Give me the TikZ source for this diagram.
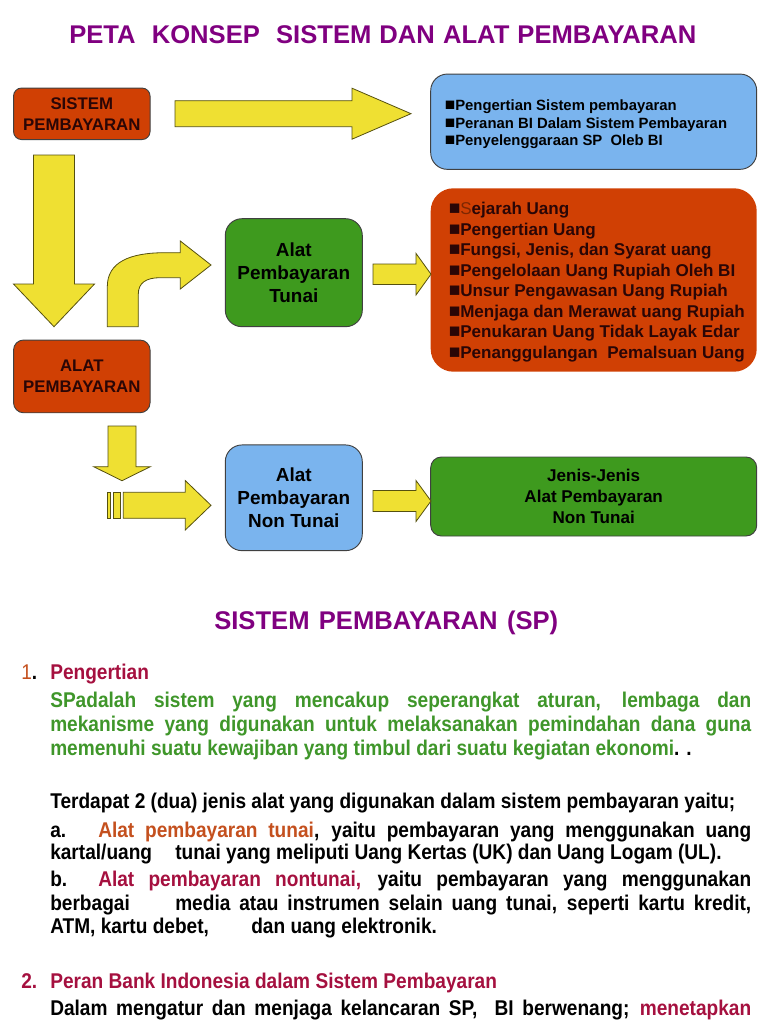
\documentclass[tikz,border=0pt]{standalone}
\usepackage{fontspec}
\setmainfont{Liberation Sans}
\newfontfamily\bodyfont[FakeStretch=0.895]{Liberation Sans}
\usetikzlibrary{positioning}
\definecolor{boxred}{HTML}{D04004}
\definecolor{boxgreen}{HTML}{3E9A1E}
\definecolor{boxblue}{HTML}{7AB4EE}
\definecolor{arrowyellow}{HTML}{EFE032}
\definecolor{arrowline}{HTML}{55500F}
\definecolor{headpurple}{HTML}{800080}
\definecolor{textcrimson}{HTML}{A5103F}
\definecolor{textorange}{HTML}{C4501E}
\definecolor{textgreen}{HTML}{3F962A}
\definecolor{textdark}{HTML}{2A0606}
\newcommand{\justline}[2]{\makebox[\dimexpr#1pt*3/4\relax][s]{#2}}
\newcommand{\listmark}[2]{\makebox[\dimexpr#1pt*3/4\relax][l]{\fontsize{#2}{#2}\selectfont ■}}
\tikzset{
	panel/.style 2 args={draw=black!75,line width=0.7pt,align=center,text=black,inner sep=0pt,
		font=\bfseries\fontsize{#1}{#2}\selectfont},
	redbox/.style={panel={12.6}{15.75},fill=boxred,text=textdark},
	bigbox/.style={panel={14.2}{17},rounded corners=12.5pt},
	boxsize/.style 2 args={minimum width=#1*0.75pt,minimum height=#2*0.75pt},
	blockarrow/.style={draw=arrowline,line width=0.6pt,fill=arrowyellow,line join=miter},
	listline/.style={anchor=base west,inner sep=0pt,font=\bfseries\fontsize{11.15}{13}\selectfont},
	redline/.style={listline,text=textdark,font=\bfseries\fontsize{12.8}{15}\selectfont},
	heading/.style={anchor=base west,inner sep=0pt,text=headpurple,font=\bfseries\fontsize{19.2}{22}\selectfont},
	bodytext/.style={anchor=base west,inner sep=0pt,text=black,font=\bodyfont\bfseries\fontsize{16}{19}\selectfont},
}
\begin{document}
\begin{tikzpicture}[x=0.75pt,y=-0.75pt]
	\useasboundingbox (0,0) rectangle (768,1024);
	% headings
	\node (title) at (69,44) [heading]{\justline{627}{PETA\ \ KONSEP\ \ SISTEM DAN ALAT PEMBAYARAN}};
	\node (subtitle) at (214,629) [heading]{\justline{344}{SISTEM PEMBAYARAN (SP)}};
	% boxes
	\node (sistem) at (81.8,113.8) [redbox,boxsize={136.5}{51.5},rounded corners=6pt]{SISTEM\\PEMBAYARAN};
	\node (alat) at (81.8,376.4) [redbox,boxsize={136.5}{72.7},rounded corners=7.5pt]{ALAT\\PEMBAYARAN};
	\node (tunai) at (293.8,272.7) [bigbox,fill=boxgreen,boxsize={137}{108}]{Alat\\Pembayaran\\Tunai};
	\node (nontunai) at (293.8,497.8) [bigbox,fill=boxblue,boxsize={137}{105.7}]{Alat\\Pembayaran\\Non Tunai};
	\node (listsp) at (593.7,121.7) [panel={11}{13},fill=boxblue,boxsize={326}{95.3},rounded corners=12.5pt]{};
	\node (listuang) at (593.7,280) [panel={11}{13},draw=none,fill=boxred,boxsize={326}{183.4},rounded corners=17pt]{};
	\node (jenis) at (593.7,496.5) [panel={12.8}{15.6},fill=boxgreen,boxsize={326}{79},rounded corners=8pt]{Jenis-Jenis\\Alat Pembayaran\\Non Tunai};
	% block arrows
	\foreach \xa/\xb/\xc/\ym/\hs/\hh in {175/352/411/113.7/13/25.5,373/416/431/274.2/10.2/20.8,373/416/431/501/10.5/20.5,123.3/185.3/211/505.3/13/24.7}
		\draw [blockarrow](\xa,\ym-\hs)--(\xb,\ym-\hs)--(\xb,\ym-\hh)--(\xc,\ym)--(\xb,\ym+\hh)--(\xb,\ym+\hs)--(\xa,\ym+\hs)--cycle;
	\foreach \xm/\ya/\yb/\yc/\hs/\hh in {54/155/284/326.7/20.5/40.5,122/426/466.7/480.7/14/28.3}
		\draw [blockarrow](\xm-\hs,\ya)--(\xm+\hs,\ya)--(\xm+\hs,\yb)--(\xm+\hh,\yb)--(\xm,\yc)--(\xm-\hh,\yb)--(\xm-\hs,\yb)--cycle;
	\draw [blockarrow](107.3,326.7)--(107.3,286.7) .. controls (107.3,262) and (130,252.7) .. (165,252.7)
		--(180.3,252.7)--(180.3,241)--(211,265)--(180.3,289)--(180.3,277.7)--(160,277.7)
		.. controls (146,277.7) and (138.3,283) .. (138.3,294)--(138.3,326.7)--cycle;
	\draw [blockarrow](107.3,492.3) rectangle (110.7,518.3);
	\draw [blockarrow](113.3,492.3) rectangle (120.7,518.3);
	% list in the blue box
	\foreach \n/\y/\txt in {a/110/Pengertian Sistem pembayaran,b/128/Peranan BI Dalam Sistem Pembayaran,c/145/{Penyelenggaraan SP\ \ Oleb BI}}
		\node (sp\n) at (444.5,\y) [listline]{\listmark{10.5}{13}\txt};
	% list in the red box
	\foreach \n/\y/\txt in {a/214/{\textcolor{boxred!60!black}{\mdseries S}ejarah Uang},b/235/Pengertian Uang,c/255/{Fungsi, Jenis, dan Syarat uang},d/276/Pengelolaan Uang Rupiah Oleh BI,e/296/Unsur Pengawasan Uang Rupiah,f/317/Menjaga dan Merawat uang Rupiah,g/337/Penukaran Uang Tidak Layak Edar,h/358/{Penanggulangan\ \ Pemalsuan Uang}}
		\node (uang\n) at (448.5,\y) [redline]{\listmark{11.5}{14.5}\txt};
	% text below
	\node (numa) at (21,679) [bodytext,font=\bodyfont\fontsize{16}{19}\selectfont,text=textorange]{1\textcolor{black}{\bfseries.}};
	\node (pengertian) at (50,679) [bodytext,text=textcrimson]{Pengertian};
	\node (defa) at (50,707) [bodytext,text=textgreen]{\justline{701}{SPadalah sistem yang mencakup seperangkat aturan, lembaga dan}};
	\node (defb) at (50,731) [bodytext,text=textgreen]{\justline{701}{mekanisme yang digunakan untuk melaksanakan pemindahan dana guna}};
	\node (defc) at (50,755) [bodytext,text=textgreen]{memenuhi suatu kewajiban yang timbul dari suatu kegiatan ekonomi\textcolor{black}{. .}};
	\node (jenisa) at (50,808) [bodytext]{Terdapat 2 (dua) jenis alat yang digunakan dalam sistem pembayaran yaitu;};
	\node (itema) at (50,837) [bodytext]{a.};
	\node (itemaa) at (98,837) [bodytext]{\justline{653}{\textcolor{textorange}{Alat pembayaran tunai}, yaitu pembayaran yang menggunakan uang}};
	\node (itemab) at (50,859) [bodytext]{kartal/uang};
	\node (itemac) at (175,859) [bodytext]{tunai yang meliputi Uang Kertas (UK) dan Uang Logam (UL).};
	\node (itemb) at (50,886) [bodytext]{b.};
	\node (itemba) at (98,886) [bodytext]{\justline{653}{\textcolor{textcrimson}{Alat pembayaran nontunai,} yaitu pembayaran yang menggunakan}};
	\node (itembb) at (50,910) [bodytext]{berbagai};
	\node (itembc) at (175,910) [bodytext]{\justline{576}{media atau instrumen selain uang tunai, seperti kartu kredit,}};
	\node (itembd) at (50,933) [bodytext]{ATM, kartu debet,};
	\node (itembe) at (251,933) [bodytext]{dan uang elektronik.};
	\node (numb) at (21,988) [bodytext,text=textcrimson]{2.};
	\node (peran) at (50,988) [bodytext,text=textcrimson]{Peran Bank Indonesia dalam Sistem Pembayaran};
	\node (dalam) at (50,1015) [bodytext]{\justline{701}{Dalam mengatur dan menjaga kelancaran SP,\ \ BI berwenang; \textcolor{textcrimson}{menetapkan}}};
\end{tikzpicture}
\end{document}
